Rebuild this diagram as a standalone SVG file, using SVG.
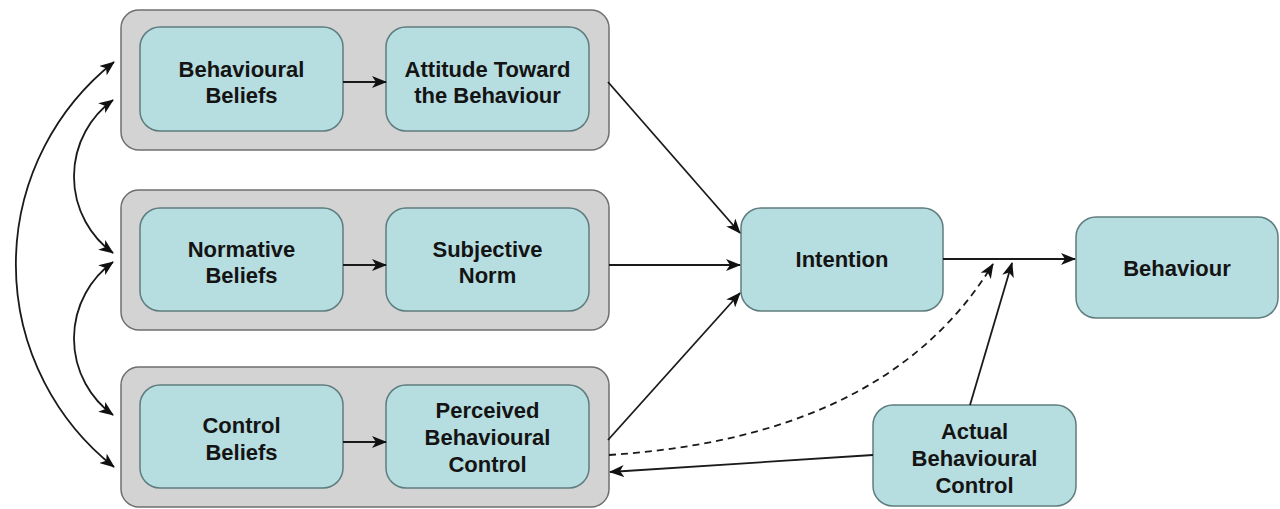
<svg xmlns="http://www.w3.org/2000/svg" width="1280" height="509" viewBox="0 0 1280 509">
  <style>
    .grp { fill: #d3d3d3; stroke: #6f6f6f; stroke-width: 1.5; }
    .box { fill: #b6dde0; stroke: #5f7c7e; stroke-width: 1.5; }
    .lbl { font-family: "Liberation Sans", Arial, sans-serif; font-weight: bold; font-size: 22px; fill: #141414; text-anchor: middle; }
    .con { fill: none; stroke: #1a1a1a; stroke-width: 1.8; }
    .dash { stroke-dasharray: 7 5; }
  </style>
  <defs>
    <marker id="ah" viewBox="0 0 15 12" refX="14" refY="6" markerWidth="15" markerHeight="12" markerUnits="userSpaceOnUse" orient="auto-start-reverse">
      <path d="M0,0 L15,6 L0,12 L4,6 z" fill="#111"/>
    </marker>
  </defs>

  <rect width="1280" height="509" fill="#ffffff"/>

  <g id="group-attitude">
    <rect class="grp" x="121" y="10" width="488" height="140" rx="18"/>
  </g>
  <g id="group-norm">
    <rect class="grp" x="121" y="190" width="488" height="140" rx="18"/>
  </g>
  <g id="group-control">
    <rect class="grp" x="121" y="367" width="488" height="140" rx="18"/>
  </g>

  <g id="behavioural-beliefs">
    <rect class="box" x="140" y="27" width="203" height="104" rx="20"/>
    <text class="lbl" x="241.5" y="77">Behavioural</text>
    <text class="lbl" x="241.5" y="103">Beliefs</text>
  </g>
  <g id="attitude">
    <rect class="box" x="386" y="27" width="203" height="104" rx="20"/>
    <text class="lbl" x="487.5" y="77">Attitude Toward</text>
    <text class="lbl" x="487.5" y="103">the Behaviour</text>
  </g>
  <g id="normative-beliefs">
    <rect class="box" x="140" y="208" width="203" height="103" rx="20"/>
    <text class="lbl" x="241.5" y="257">Normative</text>
    <text class="lbl" x="241.5" y="283">Beliefs</text>
  </g>
  <g id="subjective-norm">
    <rect class="box" x="386" y="208" width="203" height="103" rx="20"/>
    <text class="lbl" x="487.5" y="257">Subjective</text>
    <text class="lbl" x="487.5" y="283">Norm</text>
  </g>
  <g id="control-beliefs">
    <rect class="box" x="140" y="385" width="203" height="103" rx="20"/>
    <text class="lbl" x="241.5" y="433">Control</text>
    <text class="lbl" x="241.5" y="460">Beliefs</text>
  </g>
  <g id="perceived-control">
    <rect class="box" x="386" y="385" width="203" height="103" rx="20"/>
    <text class="lbl" x="487.5" y="418">Perceived</text>
    <text class="lbl" x="487.5" y="445">Behavioural</text>
    <text class="lbl" x="487.5" y="472">Control</text>
  </g>
  <g id="intention">
    <rect class="box" x="741" y="208" width="202" height="103" rx="20"/>
    <text class="lbl" x="842" y="267">Intention</text>
  </g>
  <g id="behaviour">
    <rect class="box" x="1076" y="217" width="202" height="101" rx="20"/>
    <text class="lbl" x="1177" y="276">Behaviour</text>
  </g>
  <g id="actual-control">
    <rect class="box" x="873" y="405" width="203" height="101" rx="20"/>
    <text class="lbl" x="974.5" y="439">Actual</text>
    <text class="lbl" x="974.5" y="466">Behavioural</text>
    <text class="lbl" x="974.5" y="493">Control</text>
  </g>

  <g id="connectors">
    <line class="con" x1="343" y1="82" x2="386" y2="82" marker-end="url(#ah)"/>
    <line class="con" x1="343" y1="265" x2="386" y2="265" marker-end="url(#ah)"/>
    <line class="con" x1="343" y1="442" x2="386" y2="442" marker-end="url(#ah)"/>

    <path class="con" d="M 114 467 A 258 258 0 0 1 114 62" marker-start="url(#ah)" marker-end="url(#ah)"/>
    <path class="con" d="M 113 253 A 94.5 94.5 0 0 1 113 100" marker-start="url(#ah)" marker-end="url(#ah)"/>
    <path class="con" d="M 113 415 A 94.5 94.5 0 0 1 113 262" marker-start="url(#ah)" marker-end="url(#ah)"/>

    <line class="con" x1="608" y1="82" x2="740" y2="233" marker-end="url(#ah)"/>
    <line class="con" x1="609" y1="265" x2="740" y2="265" marker-end="url(#ah)"/>
    <line class="con" x1="608" y1="440" x2="740" y2="293" marker-end="url(#ah)"/>
    <line class="con" x1="943" y1="259" x2="1075" y2="259" marker-end="url(#ah)"/>
    <path class="con dash" d="M 609 455 C 760 445, 910 400, 993 264" marker-end="url(#ah)"/>
    <line class="con" x1="970" y1="405" x2="1012" y2="263" marker-end="url(#ah)"/>
    <line class="con" x1="873" y1="455" x2="610" y2="472" marker-end="url(#ah)"/>
  </g>
</svg>
